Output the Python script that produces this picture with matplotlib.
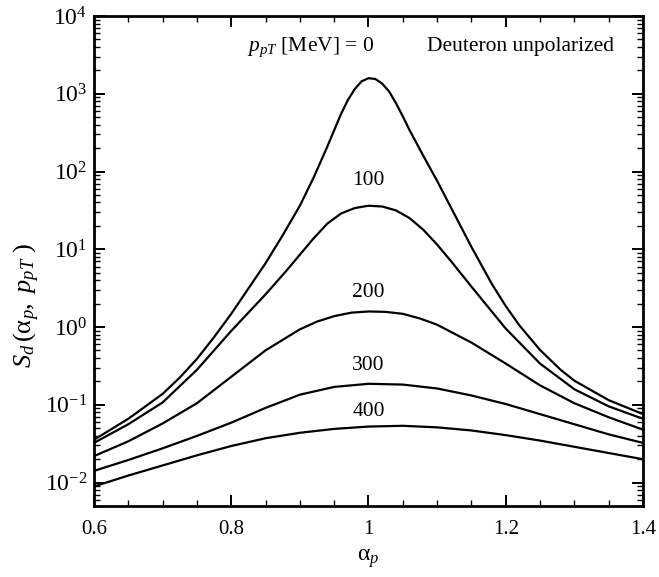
import matplotlib
matplotlib.use("Agg")
import matplotlib.pyplot as plt
import numpy as np
from matplotlib.ticker import LogLocator, MultipleLocator, NullFormatter

plt.rcParams['font.family'] = ['Liberation Serif', 'DejaVu Serif']
plt.rcParams['mathtext.fontset'] = 'custom'
plt.rcParams['mathtext.rm'] = 'Liberation Serif'
plt.rcParams['mathtext.it'] = 'Liberation Serif:italic'

# alpha_p grids and log10(S_d) for each transverse momentum
x_p0 = [0.60, 0.65, 0.70, 0.725, 0.75, 0.775, 0.80, 0.85, 0.875, 0.90, 0.92,
        0.94, 0.96, 0.97, 0.98, 0.99, 1.00, 1.01, 1.02, 1.03, 1.04, 1.05,
        1.06, 1.08, 1.10, 1.12, 1.15, 1.18, 1.20, 1.22, 1.25, 1.28, 1.30,
        1.35, 1.40]
log_s_p0 = [-1.45, -1.18, -0.86, -0.65, -0.41, -0.13, 0.17, 0.82, 1.18, 1.56, 1.92,
            2.32, 2.74, 2.92, 3.06, 3.16, 3.20, 3.19, 3.13, 3.03, 2.88, 2.71,
            2.53, 2.20, 1.88, 1.54, 1.03, 0.55, 0.27, 0.02, -0.295, -0.55, -0.69,
            -0.94, -1.12]

x_p100 = [0.60, 0.65, 0.70, 0.75, 0.80, 0.85, 0.88, 0.90, 0.92, 0.94, 0.96,
          0.98, 1.00, 1.02, 1.04, 1.06, 1.08, 1.10, 1.12, 1.15, 1.20, 1.25,
          1.30, 1.35, 1.40]
log_s_p100 = [-1.49, -1.25, -0.97, -0.55, -0.05, 0.42, 0.72, 0.93, 1.14, 1.33, 1.46,
              1.53, 1.56, 1.55, 1.50, 1.40, 1.25, 1.06, 0.85, 0.52, -0.02, -0.47,
              -0.80, -1.02, -1.18]

x_p200 = [0.60, 0.65, 0.70, 0.75, 0.80, 0.85, 0.90, 0.925, 0.95, 0.975, 1.00,
          1.025, 1.05, 1.075, 1.10, 1.15, 1.20, 1.25, 1.30, 1.35, 1.40]
log_s_p200 = [-1.66, -1.47, -1.24, -0.98, -0.64, -0.30, -0.03, 0.07, 0.14, 0.185, 0.20,
              0.195, 0.17, 0.11, 0.03, -0.20, -0.47, -0.75, -0.98, -1.16, -1.32]

x_wide = [0.60, 0.65, 0.70, 0.75, 0.80, 0.85, 0.90, 0.95, 1.00,
          1.05, 1.10, 1.15, 1.20, 1.25, 1.30, 1.35, 1.40]
log_s_p300 = [-1.85, -1.71, -1.56, -1.40, -1.23, -1.04, -0.87, -0.77, -0.73,
              -0.74, -0.79, -0.88, -0.99, -1.12, -1.25, -1.38, -1.49]
log_s_p400 = [-2.05, -1.91, -1.78, -1.65, -1.53, -1.43, -1.36, -1.31, -1.28,
              -1.27, -1.29, -1.33, -1.39, -1.46, -1.54, -1.62, -1.70]

curves = [
    (x_p0, log_s_p0),
    (x_p100, log_s_p100),
    (x_p200, log_s_p200),
    (x_wide, log_s_p300),
    (x_wide, log_s_p400),
]

# curve labels: text, x, y
labels = [
    ('100', 1.0, 76),
    ('200', 1.0, 2.8),
    ('300', 1.0, 0.32),
    ('400', 1.0, 0.081),
]

xticks = [0.6, 0.8, 1.0, 1.2, 1.4]
xtick_labels = ['0.6', '0.8', '1', '1.2', '1.4']

fig = plt.figure(figsize=(6.59, 5.77), dpi=100)
ax = fig.add_axes([0.1426, 0.1231, 0.8331, 0.8492])

for xs, ls in curves:
    ax.plot(xs, 10 ** np.array(ls), color='black', lw=1.6)

ax.set_yscale('log')
ax.set_xlim(0.6, 1.4)
ax.set_ylim(5e-3, 1e4)

ax.set_xticks(xticks)
ax.set_xticklabels(xtick_labels)
ax.xaxis.set_minor_locator(MultipleLocator(0.05))
ax.yaxis.set_major_locator(LogLocator(base=10, numticks=12))
ax.yaxis.set_minor_locator(LogLocator(base=10, subs=np.arange(2, 10), numticks=12))
ax.yaxis.set_minor_formatter(NullFormatter())

ax.tick_params(which='both', direction='in', top=True, right=True)
ax.tick_params(which='major', length=8, width=1.4)
ax.tick_params(which='minor', length=4, width=1.0)
ax.tick_params(axis='x', labelsize=15, pad=10)
ax.tick_params(axis='y', labelsize=17, pad=5)
for s in ax.spines.values():
    s.set_linewidth(2.0)

ax.set_xlabel(r'$\mathrm{α}_p$', fontsize=17, labelpad=6)
ax.set_ylabel(r'$S_d\,(\mathrm{α}_p,\ p_{pT}\ )$', fontsize=19)
ax.yaxis.set_label_coords(-0.095, 0.41)

ax.text(0.915, 4000, r'$p_{pT}$ [MeV] = 0', fontsize=15.5,
        ha='center', va='center')
ax.text(1.222, 4000, 'Deuteron unpolarized', fontsize=15.5,
        ha='center', va='center')
for text, lx, ly in labels:
    ax.text(lx, ly, text, fontsize=15.5, ha='center', va='center')

fig.savefig('out.png', dpi=100)
